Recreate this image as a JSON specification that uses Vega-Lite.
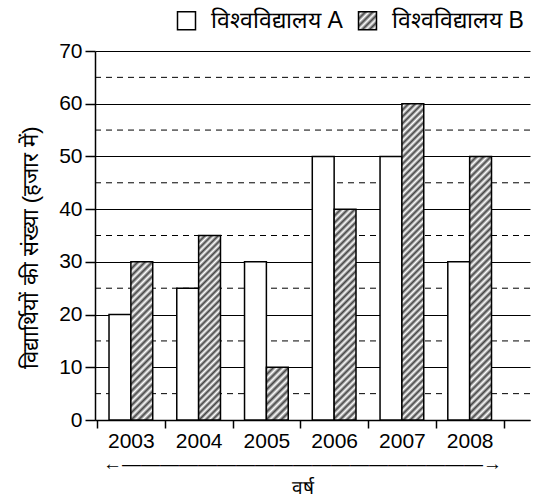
{
  "$schema": "https://vega.github.io/schema/vega-lite/v6.json",
  "width": 435,
  "height": 369,
  "autosize": "none",
  "padding": {"left": 95, "top": 51, "right": 16, "bottom": 79},
  "background": "white",
  "config": {
    "view": {"stroke": null},
    "font": "Liberation Sans",
    "axis": {"labelFont": "Liberation Sans", "titleFont": "Liberation Sans", "labelColor": "black", "titleColor": "black", "titleFontWeight": "normal"},
    "legend": {"labelFont": "Liberation Sans"}
  },
  "layer": [
    {
      "data": {"values": [{"g": 5}, {"g": 15}, {"g": 25}, {"g": 35}, {"g": 45}, {"g": 55}, {"g": 65}]},
      "mark": {"type": "rule", "color": "black", "strokeWidth": 1, "strokeDash": [6, 5]},
      "encoding": {
        "y": {
          "field": "g", "type": "quantitative", "scale": {"domain": [0, 70], "nice": false},
          "axis": {
            "values": [0, 10, 20, 30, 40, 50, 60, 70],
            "grid": true, "gridColor": "black", "gridOpacity": 1, "gridWidth": 1.2,
            "labelFontSize": 21, "labelPadding": 3,
            "tickSize": 10, "tickColor": "black", "tickWidth": 1.5,
            "domainColor": "black", "domainWidth": 1.5,
            "title": "विद्यार्थियों की संख्या (हजार में)", "titleFontSize": 22, "titlePadding": 16, "titleY": 196
          }
        }
      }
    },
    {
      "data": {"values": [
        {"year": "2003", "university": "विश्वविद्यालय A", "students": 20},
        {"year": "2003", "university": "विश्वविद्यालय B", "students": 30},
        {"year": "2004", "university": "विश्वविद्यालय A", "students": 25},
        {"year": "2004", "university": "विश्वविद्यालय B", "students": 35},
        {"year": "2005", "university": "विश्वविद्यालय A", "students": 30},
        {"year": "2005", "university": "विश्वविद्यालय B", "students": 10},
        {"year": "2006", "university": "विश्वविद्यालय A", "students": 50},
        {"year": "2006", "university": "विश्वविद्यालय B", "students": 40},
        {"year": "2007", "university": "विश्वविद्यालय A", "students": 50},
        {"year": "2007", "university": "विश्वविद्यालय B", "students": 60},
        {"year": "2008", "university": "विश्वविद्यालय A", "students": 30},
        {"year": "2008", "university": "विश्वविद्यालय B", "students": 50}
      ]},
      "mark": {"type": "bar", "stroke": "black", "strokeWidth": 1.5, "strokeOpacity": 1, "fillOpacity": 1},
      "encoding": {
        "x": {
          "field": "year", "type": "nominal",
          "scale": {"paddingInner": 0, "paddingOuter": 0.21, "align": 0.07},
          "axis": {
            "labelAngle": 0, "labelFontSize": 21, "labelPadding": 2,
            "tickBand": "extent", "tickSize": 8, "tickColor": "black", "tickWidth": 1.5,
            "domainColor": "black", "domainWidth": 1.5,
            "title": ["←———————————————————→", "वर्ष"],
            "titleFontSize": 19, "titlePadding": 3, "titleLineHeight": 24, "titleX": 207
          }
        },
        "xOffset": {"field": "university", "type": "nominal", "scale": {"paddingInner": 0, "paddingOuter": 0.55}},
        "y": {
          "field": "students", "type": "quantitative",
          "scale": {"domain": [0, 70], "nice": false},
          "axis": {
            "values": [0, 10, 20, 30, 40, 50, 60, 70],
            "grid": true, "gridColor": "black", "gridOpacity": 1, "gridWidth": 1.2,
            "labelFontSize": 21, "labelPadding": 3,
            "tickSize": 10, "tickColor": "black", "tickWidth": 1.5,
            "domainColor": "black", "domainWidth": 1.5,
            "title": "विद्यार्थियों की संख्या (हजार में)", "titleFontSize": 22, "titlePadding": 16, "titleY": 196
          }
        },
        "fill": {
          "field": "university", "type": "nominal",
          "scale": {
            "domain": ["विश्वविद्यालय A", "विश्वविद्यालय B"],
            "range": ["#ffffff", {"expr": "{gradient: 'linear', x1: 0, y1: 0, x2: 1, y2: 1, stops: [{offset: 0, color: '#444'}, {offset: 0.1, color: '#fff'}, {offset: 0.2, color: '#444'}, {offset: 0.3, color: '#fff'}, {offset: 0.4, color: '#444'}, {offset: 0.5, color: '#fff'}, {offset: 0.6, color: '#444'}, {offset: 0.7, color: '#fff'}, {offset: 0.8, color: '#444'}, {offset: 0.9, color: '#fff'}, {offset: 1, color: '#444'}]}"}]
          },
          "legend": {
            "orient": "none", "legendX": 80, "legendY": -42, "direction": "horizontal", "title": null,
            "symbolType": "square", "symbolSize": 324, "symbolStrokeColor": "black", "symbolStrokeWidth": 1.5, "symbolOpacity": 1,
            "labelFontSize": 23, "labelColor": "black", "labelOffset": 13, "columnPadding": 12, "labelLimit": 300
          },
          "condition": [
            {"test": "datum.university === 'विश्वविद्यालय B' && datum.year === '2003'", "value": {"gradient": "linear", "x1": 0, "y1": 0, "x2": 0.1547, "y2": 1.117, "stops": [
              {"offset": 0, "color": "#444"}, {"offset": 0.02, "color": "#fff"}, {"offset": 0.04, "color": "#444"}, {"offset": 0.06, "color": "#fff"}, {"offset": 0.08, "color": "#444"}, {"offset": 0.1, "color": "#fff"}, {"offset": 0.12, "color": "#444"}, {"offset": 0.14, "color": "#fff"}, {"offset": 0.16, "color": "#444"}, {"offset": 0.18, "color": "#fff"}, {"offset": 0.2, "color": "#444"}, {"offset": 0.22, "color": "#fff"}, {"offset": 0.24, "color": "#444"}, {"offset": 0.26, "color": "#fff"}, {"offset": 0.28, "color": "#444"}, {"offset": 0.3, "color": "#fff"}, {"offset": 0.32, "color": "#444"}, {"offset": 0.34, "color": "#fff"}, {"offset": 0.36, "color": "#444"}, {"offset": 0.38, "color": "#fff"}, {"offset": 0.4, "color": "#444"}, {"offset": 0.42, "color": "#fff"}, {"offset": 0.44, "color": "#444"}, {"offset": 0.46, "color": "#fff"}, {"offset": 0.48, "color": "#444"}, {"offset": 0.5, "color": "#fff"}, {"offset": 0.52, "color": "#444"}, {"offset": 0.54, "color": "#fff"}, {"offset": 0.56, "color": "#444"}, {"offset": 0.58, "color": "#fff"}, {"offset": 0.6, "color": "#444"}, {"offset": 0.62, "color": "#fff"}, {"offset": 0.64, "color": "#444"}, {"offset": 0.66, "color": "#fff"}, {"offset": 0.68, "color": "#444"}, {"offset": 0.7, "color": "#fff"}, {"offset": 0.72, "color": "#444"}, {"offset": 0.74, "color": "#fff"}, {"offset": 0.76, "color": "#444"}, {"offset": 0.78, "color": "#fff"}, {"offset": 0.8, "color": "#444"}, {"offset": 0.82, "color": "#fff"}, {"offset": 0.84, "color": "#444"}, {"offset": 0.86, "color": "#fff"}, {"offset": 0.88, "color": "#444"}, {"offset": 0.9, "color": "#fff"}, {"offset": 0.92, "color": "#444"}, {"offset": 0.94, "color": "#fff"}, {"offset": 0.96, "color": "#444"}, {"offset": 0.98, "color": "#fff"}, {"offset": 1, "color": "#444"}
            ]}},
            {"test": "datum.university === 'विश्वविद्यालय B' && datum.year === '2004'", "value": {"gradient": "linear", "x1": 0, "y1": 0, "x2": 0.131, "y2": 1.103, "stops": [
              {"offset": 0, "color": "#444"}, {"offset": 0.016, "color": "#fff"}, {"offset": 0.032, "color": "#444"}, {"offset": 0.048, "color": "#fff"}, {"offset": 0.064, "color": "#444"}, {"offset": 0.08, "color": "#fff"}, {"offset": 0.096, "color": "#444"}, {"offset": 0.112, "color": "#fff"}, {"offset": 0.128, "color": "#444"}, {"offset": 0.144, "color": "#fff"}, {"offset": 0.16, "color": "#444"}, {"offset": 0.176, "color": "#fff"}, {"offset": 0.192, "color": "#444"}, {"offset": 0.208, "color": "#fff"}, {"offset": 0.224, "color": "#444"}, {"offset": 0.24, "color": "#fff"}, {"offset": 0.256, "color": "#444"}, {"offset": 0.272, "color": "#fff"}, {"offset": 0.288, "color": "#444"}, {"offset": 0.304, "color": "#fff"}, {"offset": 0.32, "color": "#444"}, {"offset": 0.336, "color": "#fff"}, {"offset": 0.352, "color": "#444"}, {"offset": 0.368, "color": "#fff"}, {"offset": 0.384, "color": "#444"}, {"offset": 0.4, "color": "#fff"}, {"offset": 0.416, "color": "#444"}, {"offset": 0.432, "color": "#fff"}, {"offset": 0.448, "color": "#444"}, {"offset": 0.464, "color": "#fff"}, {"offset": 0.48, "color": "#444"}, {"offset": 0.496, "color": "#fff"}, {"offset": 0.512, "color": "#444"}, {"offset": 0.528, "color": "#fff"}, {"offset": 0.544, "color": "#444"}, {"offset": 0.56, "color": "#fff"}, {"offset": 0.576, "color": "#444"}, {"offset": 0.592, "color": "#fff"}, {"offset": 0.608, "color": "#444"}, {"offset": 0.624, "color": "#fff"}, {"offset": 0.64, "color": "#444"}, {"offset": 0.656, "color": "#fff"}, {"offset": 0.672, "color": "#444"}, {"offset": 0.688, "color": "#fff"}, {"offset": 0.704, "color": "#444"}, {"offset": 0.72, "color": "#fff"}, {"offset": 0.736, "color": "#444"}, {"offset": 0.752, "color": "#fff"}, {"offset": 0.768, "color": "#444"}, {"offset": 0.784, "color": "#fff"}, {"offset": 0.8, "color": "#444"}, {"offset": 0.816, "color": "#fff"}, {"offset": 0.832, "color": "#444"}, {"offset": 0.848, "color": "#fff"}, {"offset": 0.864, "color": "#444"}, {"offset": 0.88, "color": "#fff"}, {"offset": 0.896, "color": "#444"}, {"offset": 0.912, "color": "#fff"}, {"offset": 0.928, "color": "#444"}, {"offset": 0.944, "color": "#fff"}, {"offset": 0.96, "color": "#444"}, {"offset": 0.976, "color": "#fff"}, {"offset": 0.992, "color": "#444"}, {"offset": 1, "color": "#fff"}
            ]}},
            {"test": "datum.university === 'विश्वविद्यालय B' && datum.year === '2005'", "value": {"gradient": "linear", "x1": 0, "y1": 0, "x2": 0.5009, "y2": 1.207, "stops": [
              {"offset": 0, "color": "#444"}, {"offset": 0.05, "color": "#fff"}, {"offset": 0.1, "color": "#444"}, {"offset": 0.15, "color": "#fff"}, {"offset": 0.2, "color": "#444"}, {"offset": 0.25, "color": "#fff"}, {"offset": 0.3, "color": "#444"}, {"offset": 0.35, "color": "#fff"}, {"offset": 0.4, "color": "#444"}, {"offset": 0.45, "color": "#fff"}, {"offset": 0.5, "color": "#444"}, {"offset": 0.55, "color": "#fff"}, {"offset": 0.6, "color": "#444"}, {"offset": 0.65, "color": "#fff"}, {"offset": 0.7, "color": "#444"}, {"offset": 0.75, "color": "#fff"}, {"offset": 0.8, "color": "#444"}, {"offset": 0.85, "color": "#fff"}, {"offset": 0.9, "color": "#444"}, {"offset": 0.95, "color": "#fff"}, {"offset": 1, "color": "#444"}
            ]}},
            {"test": "datum.university === 'विश्वविद्यालय B' && datum.year === '2006'", "value": {"gradient": "linear", "x1": 0, "y1": 0, "x2": 0.1134, "y2": 1.092, "stops": [
              {"offset": 0, "color": "#444"}, {"offset": 0.015, "color": "#fff"}, {"offset": 0.03, "color": "#444"}, {"offset": 0.045, "color": "#fff"}, {"offset": 0.06, "color": "#444"}, {"offset": 0.075, "color": "#fff"}, {"offset": 0.09, "color": "#444"}, {"offset": 0.105, "color": "#fff"}, {"offset": 0.12, "color": "#444"}, {"offset": 0.135, "color": "#fff"}, {"offset": 0.15, "color": "#444"}, {"offset": 0.165, "color": "#fff"}, {"offset": 0.18, "color": "#444"}, {"offset": 0.195, "color": "#fff"}, {"offset": 0.21, "color": "#444"}, {"offset": 0.225, "color": "#fff"}, {"offset": 0.24, "color": "#444"}, {"offset": 0.255, "color": "#fff"}, {"offset": 0.27, "color": "#444"}, {"offset": 0.285, "color": "#fff"}, {"offset": 0.3, "color": "#444"}, {"offset": 0.315, "color": "#fff"}, {"offset": 0.33, "color": "#444"}, {"offset": 0.345, "color": "#fff"}, {"offset": 0.36, "color": "#444"}, {"offset": 0.375, "color": "#fff"}, {"offset": 0.39, "color": "#444"}, {"offset": 0.405, "color": "#fff"}, {"offset": 0.42, "color": "#444"}, {"offset": 0.435, "color": "#fff"}, {"offset": 0.45, "color": "#444"}, {"offset": 0.465, "color": "#fff"}, {"offset": 0.48, "color": "#444"}, {"offset": 0.495, "color": "#fff"}, {"offset": 0.51, "color": "#444"}, {"offset": 0.525, "color": "#fff"}, {"offset": 0.54, "color": "#444"}, {"offset": 0.555, "color": "#fff"}, {"offset": 0.57, "color": "#444"}, {"offset": 0.585, "color": "#fff"}, {"offset": 0.6, "color": "#444"}, {"offset": 0.615, "color": "#fff"}, {"offset": 0.63, "color": "#444"}, {"offset": 0.645, "color": "#fff"}, {"offset": 0.66, "color": "#444"}, {"offset": 0.675, "color": "#fff"}, {"offset": 0.69, "color": "#444"}, {"offset": 0.705, "color": "#fff"}, {"offset": 0.72, "color": "#444"}, {"offset": 0.735, "color": "#fff"}, {"offset": 0.75, "color": "#444"}, {"offset": 0.765, "color": "#fff"}, {"offset": 0.78, "color": "#444"}, {"offset": 0.795, "color": "#fff"}, {"offset": 0.81, "color": "#444"}, {"offset": 0.825, "color": "#fff"}, {"offset": 0.84, "color": "#444"}, {"offset": 0.855, "color": "#fff"}, {"offset": 0.87, "color": "#444"}, {"offset": 0.885, "color": "#fff"}, {"offset": 0.9, "color": "#444"}, {"offset": 0.915, "color": "#fff"}, {"offset": 0.93, "color": "#444"}, {"offset": 0.945, "color": "#fff"}, {"offset": 0.96, "color": "#444"}, {"offset": 0.975, "color": "#fff"}, {"offset": 0.99, "color": "#444"}, {"offset": 1, "color": "#fff"}
            ]}},
            {"test": "datum.university === 'विश्वविद्यालय B' && datum.year === '2007'", "value": {"gradient": "linear", "x1": 0, "y1": 0, "x2": 0.0737, "y2": 1.064, "stops": [
              {"offset": 0, "color": "#444"}, {"offset": 0.01, "color": "#fff"}, {"offset": 0.02, "color": "#444"}, {"offset": 0.03, "color": "#fff"}, {"offset": 0.04, "color": "#444"}, {"offset": 0.05, "color": "#fff"}, {"offset": 0.06, "color": "#444"}, {"offset": 0.07, "color": "#fff"}, {"offset": 0.08, "color": "#444"}, {"offset": 0.09, "color": "#fff"}, {"offset": 0.1, "color": "#444"}, {"offset": 0.11, "color": "#fff"}, {"offset": 0.12, "color": "#444"}, {"offset": 0.13, "color": "#fff"}, {"offset": 0.14, "color": "#444"}, {"offset": 0.15, "color": "#fff"}, {"offset": 0.16, "color": "#444"}, {"offset": 0.17, "color": "#fff"}, {"offset": 0.18, "color": "#444"}, {"offset": 0.19, "color": "#fff"}, {"offset": 0.2, "color": "#444"}, {"offset": 0.21, "color": "#fff"}, {"offset": 0.22, "color": "#444"}, {"offset": 0.23, "color": "#fff"}, {"offset": 0.24, "color": "#444"}, {"offset": 0.25, "color": "#fff"}, {"offset": 0.26, "color": "#444"}, {"offset": 0.27, "color": "#fff"}, {"offset": 0.28, "color": "#444"}, {"offset": 0.29, "color": "#fff"}, {"offset": 0.3, "color": "#444"}, {"offset": 0.31, "color": "#fff"}, {"offset": 0.32, "color": "#444"}, {"offset": 0.33, "color": "#fff"}, {"offset": 0.34, "color": "#444"}, {"offset": 0.35, "color": "#fff"}, {"offset": 0.36, "color": "#444"}, {"offset": 0.37, "color": "#fff"}, {"offset": 0.38, "color": "#444"}, {"offset": 0.39, "color": "#fff"}, {"offset": 0.4, "color": "#444"}, {"offset": 0.41, "color": "#fff"}, {"offset": 0.42, "color": "#444"}, {"offset": 0.43, "color": "#fff"}, {"offset": 0.44, "color": "#444"}, {"offset": 0.45, "color": "#fff"}, {"offset": 0.46, "color": "#444"}, {"offset": 0.47, "color": "#fff"}, {"offset": 0.48, "color": "#444"}, {"offset": 0.49, "color": "#fff"}, {"offset": 0.5, "color": "#444"}, {"offset": 0.51, "color": "#fff"}, {"offset": 0.52, "color": "#444"}, {"offset": 0.53, "color": "#fff"}, {"offset": 0.54, "color": "#444"}, {"offset": 0.55, "color": "#fff"}, {"offset": 0.56, "color": "#444"}, {"offset": 0.57, "color": "#fff"}, {"offset": 0.58, "color": "#444"}, {"offset": 0.59, "color": "#fff"}, {"offset": 0.6, "color": "#444"}, {"offset": 0.61, "color": "#fff"}, {"offset": 0.62, "color": "#444"}, {"offset": 0.63, "color": "#fff"}, {"offset": 0.64, "color": "#444"}, {"offset": 0.65, "color": "#fff"}, {"offset": 0.66, "color": "#444"}, {"offset": 0.67, "color": "#fff"}, {"offset": 0.68, "color": "#444"}, {"offset": 0.69, "color": "#fff"}, {"offset": 0.7, "color": "#444"}, {"offset": 0.71, "color": "#fff"}, {"offset": 0.72, "color": "#444"}, {"offset": 0.73, "color": "#fff"}, {"offset": 0.74, "color": "#444"}, {"offset": 0.75, "color": "#fff"}, {"offset": 0.76, "color": "#444"}, {"offset": 0.77, "color": "#fff"}, {"offset": 0.78, "color": "#444"}, {"offset": 0.79, "color": "#fff"}, {"offset": 0.8, "color": "#444"}, {"offset": 0.81, "color": "#fff"}, {"offset": 0.82, "color": "#444"}, {"offset": 0.83, "color": "#fff"}, {"offset": 0.84, "color": "#444"}, {"offset": 0.85, "color": "#fff"}, {"offset": 0.86, "color": "#444"}, {"offset": 0.87, "color": "#fff"}, {"offset": 0.88, "color": "#444"}, {"offset": 0.89, "color": "#fff"}, {"offset": 0.9, "color": "#444"}, {"offset": 0.91, "color": "#fff"}, {"offset": 0.92, "color": "#444"}, {"offset": 0.93, "color": "#fff"}, {"offset": 0.94, "color": "#444"}, {"offset": 0.95, "color": "#fff"}, {"offset": 0.96, "color": "#444"}, {"offset": 0.97, "color": "#fff"}, {"offset": 0.98, "color": "#444"}, {"offset": 0.99, "color": "#fff"}, {"offset": 1, "color": "#444"}
            ]}},
            {"test": "datum.university === 'विश्वविद्यालय B' && datum.year === '2008'", "value": {"gradient": "linear", "x1": 0, "y1": 0, "x2": 0.0893, "y2": 1.076, "stops": [
              {"offset": 0, "color": "#444"}, {"offset": 0.0125, "color": "#fff"}, {"offset": 0.025, "color": "#444"}, {"offset": 0.0375, "color": "#fff"}, {"offset": 0.05, "color": "#444"}, {"offset": 0.0625, "color": "#fff"}, {"offset": 0.075, "color": "#444"}, {"offset": 0.0875, "color": "#fff"}, {"offset": 0.1, "color": "#444"}, {"offset": 0.1125, "color": "#fff"}, {"offset": 0.125, "color": "#444"}, {"offset": 0.1375, "color": "#fff"}, {"offset": 0.15, "color": "#444"}, {"offset": 0.1625, "color": "#fff"}, {"offset": 0.175, "color": "#444"}, {"offset": 0.1875, "color": "#fff"}, {"offset": 0.2, "color": "#444"}, {"offset": 0.2125, "color": "#fff"}, {"offset": 0.225, "color": "#444"}, {"offset": 0.2375, "color": "#fff"}, {"offset": 0.25, "color": "#444"}, {"offset": 0.2625, "color": "#fff"}, {"offset": 0.275, "color": "#444"}, {"offset": 0.2875, "color": "#fff"}, {"offset": 0.3, "color": "#444"}, {"offset": 0.3125, "color": "#fff"}, {"offset": 0.325, "color": "#444"}, {"offset": 0.3375, "color": "#fff"}, {"offset": 0.35, "color": "#444"}, {"offset": 0.3625, "color": "#fff"}, {"offset": 0.375, "color": "#444"}, {"offset": 0.3875, "color": "#fff"}, {"offset": 0.4, "color": "#444"}, {"offset": 0.4125, "color": "#fff"}, {"offset": 0.425, "color": "#444"}, {"offset": 0.4375, "color": "#fff"}, {"offset": 0.45, "color": "#444"}, {"offset": 0.4625, "color": "#fff"}, {"offset": 0.475, "color": "#444"}, {"offset": 0.4875, "color": "#fff"}, {"offset": 0.5, "color": "#444"}, {"offset": 0.5125, "color": "#fff"}, {"offset": 0.525, "color": "#444"}, {"offset": 0.5375, "color": "#fff"}, {"offset": 0.55, "color": "#444"}, {"offset": 0.5625, "color": "#fff"}, {"offset": 0.575, "color": "#444"}, {"offset": 0.5875, "color": "#fff"}, {"offset": 0.6, "color": "#444"}, {"offset": 0.6125, "color": "#fff"}, {"offset": 0.625, "color": "#444"}, {"offset": 0.6375, "color": "#fff"}, {"offset": 0.65, "color": "#444"}, {"offset": 0.6625, "color": "#fff"}, {"offset": 0.675, "color": "#444"}, {"offset": 0.6875, "color": "#fff"}, {"offset": 0.7, "color": "#444"}, {"offset": 0.7125, "color": "#fff"}, {"offset": 0.725, "color": "#444"}, {"offset": 0.7375, "color": "#fff"}, {"offset": 0.75, "color": "#444"}, {"offset": 0.7625, "color": "#fff"}, {"offset": 0.775, "color": "#444"}, {"offset": 0.7875, "color": "#fff"}, {"offset": 0.8, "color": "#444"}, {"offset": 0.8125, "color": "#fff"}, {"offset": 0.825, "color": "#444"}, {"offset": 0.8375, "color": "#fff"}, {"offset": 0.85, "color": "#444"}, {"offset": 0.8625, "color": "#fff"}, {"offset": 0.875, "color": "#444"}, {"offset": 0.8875, "color": "#fff"}, {"offset": 0.9, "color": "#444"}, {"offset": 0.9125, "color": "#fff"}, {"offset": 0.925, "color": "#444"}, {"offset": 0.9375, "color": "#fff"}, {"offset": 0.95, "color": "#444"}, {"offset": 0.9625, "color": "#fff"}, {"offset": 0.975, "color": "#444"}, {"offset": 0.9875, "color": "#fff"}, {"offset": 1, "color": "#444"}
            ]}}
          ]
        }
      }
    }
  ]
}
